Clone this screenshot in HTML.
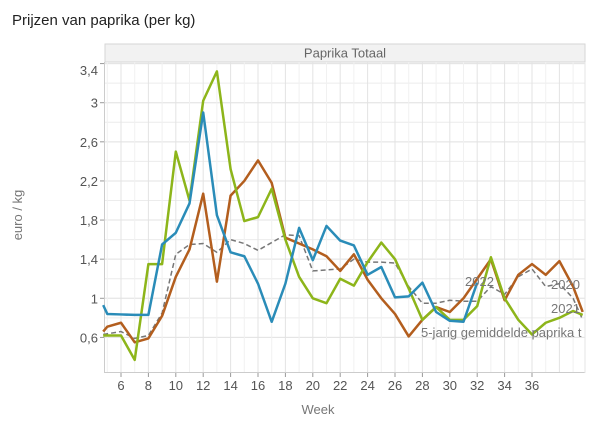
<!DOCTYPE html>
<html><head><meta charset="utf-8"><style>
body{margin:0;background:#fff;width:600px;height:435px;overflow:hidden;font-family:"Liberation Sans",sans-serif}
</style></head><body>
<svg id="s" width="600" height="435" xmlns="http://www.w3.org/2000/svg" font-family="Liberation Sans, sans-serif">
<text x="12" y="25" font-size="15" fill="#222">Prijzen van paprika (per kg)</text>
<rect x="105" y="44" width="480" height="18" fill="#f2f2f2" stroke="#d6d6d6"/>
<text x="345" y="57.5" font-size="13" fill="#666" text-anchor="middle">Paprika Totaal</text>
<g id="grid"></g>
<line x1="104.5" y1="62" x2="104.5" y2="373" stroke="#ccc"/>
<line x1="104" y1="372.5" x2="585" y2="372.5" stroke="#ccc"/>
<line x1="585" y1="62" x2="585" y2="373" stroke="#e6e6e6"/>
<g id="lines"></g>
<g font-size="13" fill="#777">
<text x="465" y="286">2022</text>
<text x="551" y="289">2020</text>
<text x="551" y="313">2021</text>
<text x="421" y="337">5-jarig gemiddelde paprika t</text>
</g>
<text x="318" y="414" font-size="13" fill="#777" text-anchor="middle">Week</text>
<text transform="translate(22,215) rotate(-90)" font-size="13" fill="#777" text-anchor="middle">euro / kg</text>
</svg>
<script>
const X=w=>121+(w-6)*13.7, Y=v=>298.3-(v-1)*97.8;
const ns="http://www.w3.org/2000/svg";
function el(p,t,a){const e=document.createElementNS(ns,t);for(const k in a)e.setAttribute(k,a[k]);p.appendChild(e);return e;}
const g=document.getElementById('grid'), L=document.getElementById('lines'), s=document.getElementById('s');
for(let v=0.6;v<3.5;v+=0.2){el(g,'line',{x1:105,x2:585,y1:Y(v),y2:Y(v),stroke:'#ececec'});}
[0.6,1,1.4,1.8,2.2,2.6,3,3.4].forEach(v=>{el(g,'line',{x1:105,x2:585,y1:Y(v),y2:Y(v),stroke:'#e3e3e3'});
 el(g,'line',{x1:100,x2:104,y1:Y(v),y2:Y(v),stroke:'#999'});
 const t=el(s,'text',{x:98,y:(v>3.3?70:Y(v))+5,'font-size':13,fill:'#555','text-anchor':'end'});t.textContent=String(v).replace('.',',');});
for(let w=5;w<=39;w++){el(g,'line',{x1:X(w),x2:X(w),y1:62,y2:372,stroke:w%2?'#f1f1f1':'#e3e3e3'});}
for(let w=6;w<=36;w+=2){el(g,'line',{x1:X(w),x2:X(w),y1:373,y2:377,stroke:'#999'});
 const t=el(s,'text',{x:X(w),y:390,'font-size':13,fill:'#555','text-anchor':'middle'});t.textContent=w;}
function draw(pts,c,d){el(L,'polyline',{points:pts.map(p=>X(p[0])+','+Y(p[1])).join(' '),fill:'none',stroke:c,'stroke-width':d?1.5:2.5,'stroke-dasharray':d?'5,3':'none','stroke-linejoin':'round'});}
const ws=a=>a.map((v,i)=>[a.start+i,v]);
function seq(st,arr,pre){const r=pre?[pre]:[];arr.forEach((v,i)=>r.push([st+i,v]));return r;}
draw(seq(6,[0.66,0.59,0.62,0.85,1.45,1.55,1.56,1.47,1.6,1.56,1.49,1.57,1.65,1.64,1.28,1.29,1.30,1.4,1.37,1.37,1.36,1.12,0.95,0.95,0.98,0.97,0.97,1.12,1.04,1.22,1.3,1.12,1.15,1.0],[4.7,0.63]).concat([[39.7,0.78]]),'#777',true);
draw(seq(5,[0.71,0.75,0.55,0.59,0.82,1.22,1.5,2.07,1.17,2.05,2.2,2.41,2.18,1.62,1.56,1.5,1.43,1.28,1.45,1.19,1.0,0.84,0.61,0.78,0.91,0.86,1.0,1.2,1.4,0.98,1.24,1.35,1.24,1.38,1.12],[4.7,0.66]).concat([[39.7,0.86]]),'#b35e1e');
draw(seq(5,[0.62,0.62,0.37,1.35,1.35,2.5,2.0,3.02,3.32,2.32,1.79,1.83,2.12,1.6,1.22,1.0,0.95,1.2,1.13,1.37,1.57,1.40,1.1,0.78,0.91,0.78,0.78,0.92,1.42,1.0,0.78,0.63,0.75,0.8,0.87],[4.7,0.62]).concat([[39.7,0.83]]),'#8db51a');
draw(seq(5,[0.84,0.835,0.83,0.83,1.55,1.67,1.97,2.9,1.85,1.47,1.43,1.15,0.76,1.15,1.72,1.39,1.74,1.59,1.54,1.24,1.32,1.01,1.02,1.16,0.86,0.77,0.76,1.16],[4.7,0.93]),'#2a8cb8');
</script>
</body></html>
